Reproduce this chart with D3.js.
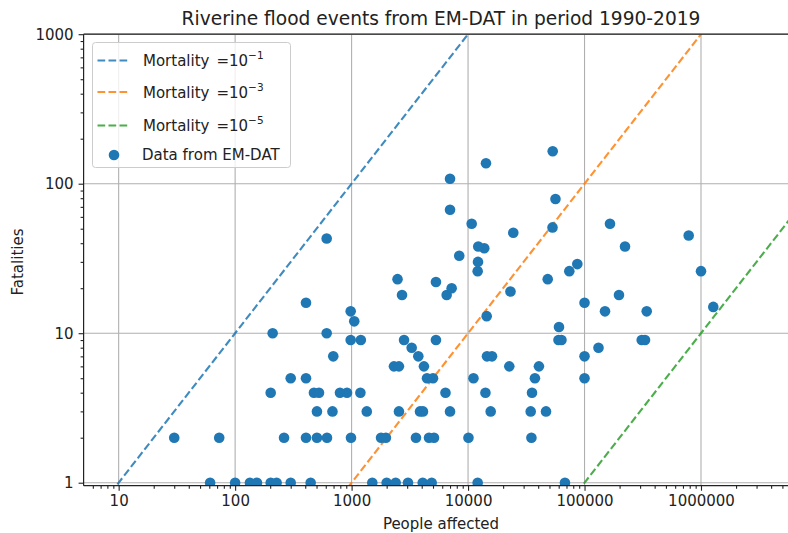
<!DOCTYPE html>
<html>
<head>
<meta charset="utf-8">
<script src="https://cdn.jsdelivr.net/npm/d3@7"></script>
<style>
  html, body { margin: 0; padding: 0; background: #fff; }
  svg { display: block; font-family: "DejaVu Sans", sans-serif; }
</style>
</head>
<body>
<svg id="chart" width="788" height="533"></svg>
<script>
// Riverine flood events (EM-DAT, 1990-2019): people affected vs fatalities
const peopleAffected = [
  61, 100, 134, 154, 202, 227, 300, 445, 1505, 2000, 2390, 3050, 4080, 4870, 12090, 67900,
  30, 73, 263, 406, 504, 615, 988, 1790, 1970, 3570, 4620, 5100, 10080, 35000,
  504, 685, 1350, 2550, 3870, 4100, 7000, 15640, 34500, 46700,
  202, 475, 525, 795, 913, 1190, 6400, 14100, 35400,
  300, 406, 4440, 5000, 11130, 37500, 100000,
  2310, 2550, 4180, 22600, 40600,
  696, 3740, 14540, 16050, 100000,
  3280, 131800,
  982, 1200, 2820, 5300, 59750, 63400, 309700, 330600,
  210, 611,
  60360, 1054, 14450,
  982, 149900, 341900,
  1275000,
  406, 100000,
  2710, 6550, 197600,
  23130, 7230, 5300,
  2480, 48300,
  12090, 74000, 1000000,
  86700, 12170, 8400, 13780,
  222600, 12240,
  611, 784000, 24450, 53100,
  10740, 165400,
  7000, 56300, 7000, 14250, 53300
];
const fatalities = [
  1, 1, 1, 1, 1, 1, 1, 1, 1, 1, 1, 1, 1, 1, 1, 1,
  2, 2, 2, 2, 2, 2, 2, 2, 2, 2, 2, 2, 2, 2,
  3, 3, 3, 3, 3, 3, 3, 3, 3, 3,
  4, 4, 4, 4, 4, 4, 4, 4, 4,
  5, 5, 5, 5, 5, 5, 5,
  6, 6, 6, 6, 6,
  7, 7, 7, 7, 7,
  8, 8,
  9, 9, 9, 9, 9, 9, 9, 9,
  10, 10,
  11, 12, 13,
  14, 14, 14,
  15,
  16, 16,
  18, 18, 18,
  19, 20, 22,
  23, 23,
  26, 26, 26,
  29, 30, 33, 37,
  38, 38,
  43, 45, 47, 51,
  54, 54,
  67, 79, 108, 137, 165
];

// Reference mortality lines (fatalities = mortality × people affected)
const mortalityRates = [1e-1, 1e-3, 1e-5];
const mortalityExponents = ["\u22121", "\u22123", "\u22125"];
const mortalityColors = ["#1f77b4", "#ff7f0e", "#2ca02c"];

const xTicks = [10, 100, 1000, 10000, 100000, 1000000];
const yTicks = [1, 10, 100, 1000];

const svg = d3.select("#chart");
const plot = { left: 83.6, top: 34.2, right: 800, bottom: 485.7 };

const x = d3.scaleLog().domain([5, 7.08e6]).range([plot.left, plot.right]);
const y = d3.scaleLog().domain([0.955, 1000]).range([plot.bottom, plot.top]);

const points = peopleAffected.map((v, i) => ({ x: v, y: fatalities[i] }));

svg.append("defs").append("clipPath").attr("id", "plotClip")
  .append("rect")
  .attr("x", plot.left).attr("y", plot.top)
  .attr("width", plot.right - plot.left).attr("height", plot.bottom - plot.top);

// Grid lines at the major ticks
const grid = svg.append("g");
grid.selectAll("line.gx").data(xTicks).join("line")
  .attr("x1", d => x(d)).attr("x2", d => x(d))
  .attr("y1", plot.top).attr("y2", plot.bottom)
  .attr("stroke", "#b0b0b0").attr("stroke-width", 1.1);
grid.selectAll("line.gy").data(yTicks).join("line")
  .attr("y1", d => y(d)).attr("y2", d => y(d))
  .attr("x1", plot.left).attr("x2", plot.right)
  .attr("stroke", "#b0b0b0").attr("stroke-width", 1.1);

// Mortality lines
const body = svg.append("g").attr("clip-path", "url(#plotClip)");
const [x0, x1] = x.domain();
mortalityRates.forEach((m, i) => {
  body.append("line")
    .attr("x1", x(x0)).attr("y1", y(x0 * m))
    .attr("x2", x(x1)).attr("y2", y(x1 * m))
    .attr("stroke", mortalityColors[i])
    .attr("stroke-width", 2.1)
    .attr("stroke-dasharray", "7.7,3.3")
    .attr("opacity", 0.85);
});

// Scatter of events
body.selectAll("circle").data(points).join("circle")
  .attr("cx", d => x(d.x)).attr("cy", d => y(d.y))
  .attr("r", 5.3)
  .attr("fill", "#1f77b4");

// Axes
const fontSize = 15;
const minorX = [];
for (let e = 0; e <= 6; e++) for (let k = 2; k <= 9; k++) {
  const v = k * Math.pow(10, e);
  if (v > x0 && v < x1) minorX.push(v);
}
const minorY = [];
for (let e = 0; e <= 2; e++) for (let k = 2; k <= 9; k++) minorY.push(k * Math.pow(10, e));

const xAxis = svg.append("g").attr("transform", `translate(0,${plot.bottom})`)
  .call(d3.axisBottom(x).tickValues(xTicks).tickFormat(d3.format("d")).tickSize(5).tickPadding(5));
const xMinor = svg.append("g").attr("transform", `translate(0,${plot.bottom})`)
  .call(d3.axisBottom(x).tickValues(minorX).tickFormat("").tickSize(3));
const yAxis = svg.append("g").attr("transform", `translate(${plot.left},0)`)
  .call(d3.axisLeft(y).tickValues(yTicks).tickFormat(d3.format("d")).tickSize(5).tickPadding(5));
const yMinor = svg.append("g").attr("transform", `translate(${plot.left},0)`)
  .call(d3.axisLeft(y).tickValues(minorY).tickFormat("").tickSize(3));

[xAxis, xMinor, yAxis, yMinor].forEach(g => {
  g.select(".domain").remove();
  g.selectAll(".tick line").attr("stroke", "#222").attr("stroke-width", 1.1);
  g.selectAll(".tick text").attr("font-size", fontSize).attr("fill", "#222")
    .attr("font-family", "DejaVu Sans, sans-serif");
});

// Spines (left, bottom, top; the right edge runs past the view)
const spines = svg.append("g").attr("stroke", "#222").attr("stroke-width", 1.2);
spines.append("line").attr("x1", plot.left).attr("x2", plot.left).attr("y1", plot.top).attr("y2", plot.bottom);
spines.append("line").attr("x1", plot.left).attr("x2", plot.right).attr("y1", plot.bottom).attr("y2", plot.bottom);
spines.append("line").attr("x1", plot.left).attr("x2", plot.right).attr("y1", plot.top).attr("y2", plot.top);

// Title and axis labels
svg.append("text").attr("x", 441).attr("y", 25)
  .attr("text-anchor", "middle").attr("font-size", 18.6).attr("fill", "#222")
  .text("Riverine flood events from EM-DAT in period 1990-2019");
svg.append("text").attr("x", 441).attr("y", 529)
  .attr("text-anchor", "middle").attr("font-size", fontSize).attr("fill", "#222")
  .text("People affected");
svg.append("text").attr("transform", "translate(23,262) rotate(-90)")
  .attr("text-anchor", "middle").attr("font-size", fontSize).attr("fill", "#222")
  .text("Fatalities");

// Legend
const legend = svg.append("g");
legend.append("rect")
  .attr("x", 92.5).attr("y", 42.5).attr("width", 198).attr("height", 125)
  .attr("rx", 3).attr("fill", "#fff").attr("fill-opacity", 0.8)
  .attr("stroke", "#cccccc").attr("stroke-width", 1);
const rowY = [60.5, 92, 125.5];
mortalityRates.forEach((m, i) => {
  legend.append("line")
    .attr("x1", 97.5).attr("x2", 128.5).attr("y1", rowY[i]).attr("y2", rowY[i])
    .attr("stroke", mortalityColors[i]).attr("stroke-width", 2.1)
    .attr("stroke-dasharray", "7.7,3.3").attr("opacity", 0.85);
  // "Mortality" followed by the math part "=10^exp" set a little apart
  const t = legend.append("text").attr("x", 143).attr("y", rowY[i] + 5.5)
    .attr("font-size", fontSize).attr("fill", "#222");
  t.append("tspan").text("Mortality");
  t.append("tspan").attr("dx", 7).text("=10");
  t.append("tspan").attr("dy", -7).attr("font-size", 10.5).text(mortalityExponents[i]);
});
legend.append("circle").attr("cx", 114).attr("cy", 155).attr("r", 5.3).attr("fill", "#1f77b4");
legend.append("text").attr("x", 142).attr("y", 159.5)
  .attr("font-size", fontSize).attr("fill", "#222").text("Data from EM-DAT");
</script>
</body>
</html>
